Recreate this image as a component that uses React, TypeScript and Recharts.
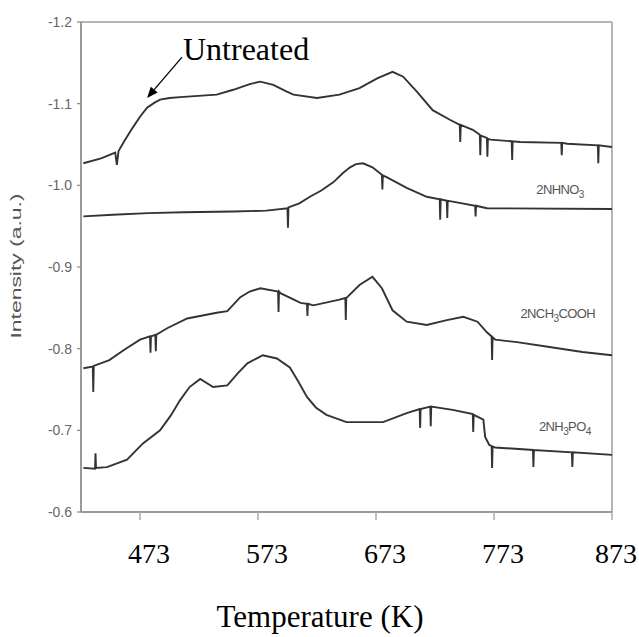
import React from 'react';
import { LineChart, Line, XAxis, YAxis, ReferenceLine, ReferenceDot } from 'recharts';

const xTicks = [473, 573, 673, 773, 873];
const yTicks = [-1.2, -1.1, -1.0, -0.9, -0.8, -0.7, -0.6];

const untreated = [
  { t: 425, v: -1.027 }, { t: 440, v: -1.033 }, { t: 452, v: -1.040 }, { t: 453.4, v: -1.025 },
  { t: 454.8, v: -1.042 }, { t: 460, v: -1.055 }, { t: 467, v: -1.071 }, { t: 473, v: -1.084 },
  { t: 479, v: -1.095 }, { t: 485, v: -1.101 }, { t: 490, v: -1.105 }, { t: 498, v: -1.107 },
  { t: 507, v: -1.108 }, { t: 538, v: -1.111 }, { t: 552, v: -1.117 }, { t: 566, v: -1.124 },
  { t: 575, v: -1.127 }, { t: 586, v: -1.123 }, { t: 597, v: -1.115 }, { t: 603, v: -1.111 },
  { t: 623, v: -1.107 }, { t: 642, v: -1.111 }, { t: 659, v: -1.119 }, { t: 674, v: -1.131 },
  { t: 687, v: -1.139 }, { t: 696, v: -1.133 }, { t: 708, v: -1.114 }, { t: 721, v: -1.092 },
  { t: 736, v: -1.080 }, { t: 744, v: -1.074 }, { t: 744.4, v: -1.053 }, { t: 744.8, v: -1.074 },
  { t: 755, v: -1.068 }, { t: 761, v: -1.062 }, { t: 761.4, v: -1.037 }, { t: 761.8, v: -1.061 },
  { t: 767, v: -1.058 }, { t: 767.4, v: -1.035 }, { t: 767.8, v: -1.057 }, { t: 770, v: -1.056 },
  { t: 788, v: -1.054 }, { t: 788.4, v: -1.031 }, { t: 788.8, v: -1.054 }, { t: 795, v: -1.053 },
  { t: 830, v: -1.052 }, { t: 830.4, v: -1.037 }, { t: 830.8, v: -1.052 }, { t: 835, v: -1.051 },
  { t: 861, v: -1.049 }, { t: 861.4, v: -1.027 }, { t: 861.8, v: -1.049 }, { t: 873, v: -1.047 },
];

const hno3 = [
  { t: 425, v: -0.962 }, { t: 450, v: -0.964 }, { t: 480, v: -0.966 }, { t: 510, v: -0.967 },
  { t: 552, v: -0.968 }, { t: 580, v: -0.969 }, { t: 598, v: -0.972 }, { t: 598.4, v: -0.948 },
  { t: 598.8, v: -0.973 }, { t: 608, v: -0.978 }, { t: 617, v: -0.986 }, { t: 627, v: -0.994 },
  { t: 637, v: -1.004 }, { t: 645, v: -1.015 }, { t: 651, v: -1.022 }, { t: 656, v: -1.026 },
  { t: 662, v: -1.027 }, { t: 670, v: -1.022 }, { t: 678, v: -1.013 }, { t: 678.4, v: -0.995 },
  { t: 678.8, v: -1.012 }, { t: 682, v: -1.010 }, { t: 699, v: -0.997 }, { t: 716, v: -0.986 },
  { t: 727, v: -0.983 }, { t: 727.4, v: -0.958 }, { t: 727.8, v: -0.983 }, { t: 733, v: -0.981 },
  { t: 733.4, v: -0.960 }, { t: 733.8, v: -0.981 }, { t: 738, v: -0.980 }, { t: 757, v: -0.975 },
  { t: 757.4, v: -0.962 }, { t: 757.8, v: -0.975 }, { t: 767, v: -0.972 }, { t: 873, v: -0.971 },
];

const ch3cooh = [
  { t: 425, v: -0.776 }, { t: 433, v: -0.778 }, { t: 433.4, v: -0.747 }, { t: 433.8, v: -0.779 },
  { t: 447, v: -0.786 }, { t: 460, v: -0.799 }, { t: 473, v: -0.811 }, { t: 481.5, v: -0.815 },
  { t: 481.9, v: -0.795 }, { t: 482.3, v: -0.815 }, { t: 486, v: -0.817 }, { t: 486.4, v: -0.797 },
  { t: 486.8, v: -0.817 }, { t: 496, v: -0.825 }, { t: 513, v: -0.837 }, { t: 538, v: -0.844 },
  { t: 547, v: -0.846 }, { t: 558, v: -0.863 }, { t: 566, v: -0.870 }, { t: 575, v: -0.874 },
  { t: 590, v: -0.870 }, { t: 590.4, v: -0.845 }, { t: 590.8, v: -0.870 }, { t: 592, v: -0.868 },
  { t: 609, v: -0.856 }, { t: 614.5, v: -0.855 }, { t: 614.9, v: -0.840 }, { t: 615.3, v: -0.855 },
  { t: 620, v: -0.853 }, { t: 642, v: -0.860 }, { t: 647, v: -0.862 }, { t: 647.4, v: -0.835 },
  { t: 647.8, v: -0.862 }, { t: 659, v: -0.878 }, { t: 670, v: -0.888 }, { t: 678, v: -0.874 },
  { t: 687, v: -0.847 }, { t: 699, v: -0.833 }, { t: 716, v: -0.829 }, { t: 733, v: -0.835 },
  { t: 747, v: -0.839 }, { t: 759, v: -0.833 }, { t: 767, v: -0.820 }, { t: 771, v: -0.815 },
  { t: 771.4, v: -0.786 }, { t: 771.8, v: -0.814 }, { t: 774, v: -0.811 }, { t: 792.5, v: -0.808 },
  { t: 820, v: -0.802 }, { t: 848, v: -0.796 }, { t: 873, v: -0.792 },
];

const h3po4 = [
  { t: 425, v: -0.654 }, { t: 434.9, v: -0.653 }, { t: 435.3, v: -0.672 }, { t: 435.7, v: -0.654 },
  { t: 445, v: -0.655 }, { t: 462, v: -0.664 }, { t: 475.5, v: -0.684 }, { t: 490, v: -0.700 },
  { t: 499, v: -0.718 }, { t: 507, v: -0.737 }, { t: 515, v: -0.753 }, { t: 524, v: -0.763 },
  { t: 535, v: -0.753 }, { t: 547, v: -0.755 }, { t: 556, v: -0.770 }, { t: 564, v: -0.782 },
  { t: 577, v: -0.792 }, { t: 589, v: -0.788 }, { t: 600, v: -0.777 }, { t: 607, v: -0.760 },
  { t: 614.5, v: -0.741 }, { t: 622, v: -0.728 }, { t: 631, v: -0.719 }, { t: 648, v: -0.710 },
  { t: 679, v: -0.710 }, { t: 699, v: -0.721 }, { t: 710, v: -0.726 }, { t: 710.4, v: -0.703 },
  { t: 710.8, v: -0.726 }, { t: 719, v: -0.729 }, { t: 719.4, v: -0.705 }, { t: 719.8, v: -0.729 },
  { t: 738, v: -0.725 }, { t: 755, v: -0.720 }, { t: 755.4, v: -0.698 }, { t: 755.8, v: -0.719 },
  { t: 764, v: -0.713 }, { t: 765.5, v: -0.692 }, { t: 769, v: -0.682 }, { t: 771, v: -0.681 },
  { t: 771.4, v: -0.654 }, { t: 771.8, v: -0.680 }, { t: 774, v: -0.679 }, { t: 806, v: -0.676 },
  { t: 806.4, v: -0.655 }, { t: 806.8, v: -0.676 }, { t: 839, v: -0.673 }, { t: 839.4, v: -0.655 },
  { t: 839.8, v: -0.673 }, { t: 873, v: -0.670 },
];

const arrowFrom = { x: 508.6, y: -1.157 };
const arrowTo = { x: 479, y: -1.107 };
const seriesLabels = [
  { t: 829, v: -0.994, main: '2NHNO', sub: '3', tail: '' },
  { t: 827, v: -0.842, main: '2NCH', sub: '3', tail: 'COOH' },
  { t: 833, v: -0.704, main: '2NH', sub: '3', tail: 'PO', sub2: '4' },
];

const serif = '"Liberation Serif", "Times New Roman", Times, serif';
const sans = '"Liberation Sans", Arial, Helvetica, sans-serif';
const lineColor = '#333';

const XTick = (props: any) => {
  const { x, y, payload } = props;
  return (
    <text x={Math.min(x + 9, 616)} y={y} dy={41} textAnchor="middle" fontFamily={serif} fontSize={28} fill="#000">
      {payload.value}
    </text>
  );
};

const YTick = (props: any) => {
  const { x, y, payload } = props;
  return (
    <text x={x - 1} y={y} dy={5} textAnchor="end" fontFamily={sans} fontSize={14} fill="#666">
      {Number(payload.value).toFixed(1)}
    </text>
  );
};

const ArrowShape = (props: any) => {
  const { x1, y1, x2, y2 } = props;
  if (x1 == null) return null;
  const ang = Math.atan2(y2 - y1, x2 - x1);
  const len = 11;
  const w = 4.5;
  const bx = x2 - len * Math.cos(ang);
  const by = y2 - len * Math.sin(ang);
  const px = -Math.sin(ang) * w;
  const py = Math.cos(ang) * w;
  return (
    <g>
      <line x1={x1} y1={y1} x2={bx} y2={by} stroke="#000" strokeWidth={1.3} />
      <polygon points={`${x2},${y2} ${bx + px},${by + py} ${bx - px},${by - py}`} fill="#000" />
      <text x={x1 + 1} y={y1 + 3} fontFamily={serif} fontSize={32} fill="#000">Untreated</text>
    </g>
  );
};

const makeLabelShape = (item: any) => (props: any) => {
  const { cx, cy } = props;
  return (
    <text x={cx} y={cy} dy={4} textAnchor="middle" fontFamily={sans} fontSize={13} fill="#555" letterSpacing={-0.6}>
      {item.main}
      <tspan dy={4} fontSize={10}>{item.sub}</tspan>
      <tspan dy={-4}>{item.tail}</tspan>
      {item.sub2 ? <tspan dy={4} fontSize={10}>{item.sub2}</tspan> : null}
    </text>
  );
};

export default function App() {
  return (
    <div style={{ position: 'absolute', left: 0, top: 0, width: 639, height: 637, background: '#fff' }}>
      <LineChart width={639} height={637} margin={{ top: 22, right: 27, bottom: 0, left: 0 }}>
        <XAxis
          type="number"
          dataKey="t"
          domain={[423, 873]}
          ticks={xTicks}
          allowDataOverflow
          height={125}
          tick={<XTick />}
          tickSize={8}
          tickMargin={2}
          axisLine={{ stroke: '#9a9a9a', strokeWidth: 2 }}
          tickLine={{ stroke: '#aaa', strokeWidth: 1.5 }}
        />
        <YAxis
          type="number"
          domain={[-1.2, -0.6]}
          ticks={yTicks}
          reversed
          allowDataOverflow
          width={81}
          tick={<YTick />}
          tickSize={4}
          tickMargin={4}
          axisLine={{ stroke: '#9a9a9a', strokeWidth: 2 }}
          tickLine={{ stroke: '#888', strokeWidth: 1.2 }}
        />
        <ReferenceLine y={-1.2} stroke="#b5b5b5" strokeWidth={2} />
        <ReferenceLine x={873} stroke="#b5b5b5" strokeWidth={2} />
        <Line data={untreated} dataKey="v" type="linear" stroke={lineColor} strokeWidth={1.9} dot={false} isAnimationActive={false} />
        <Line data={hno3} dataKey="v" type="linear" stroke={lineColor} strokeWidth={1.9} dot={false} isAnimationActive={false} />
        <Line data={ch3cooh} dataKey="v" type="linear" stroke={lineColor} strokeWidth={1.9} dot={false} isAnimationActive={false} />
        <Line data={h3po4} dataKey="v" type="linear" stroke={lineColor} strokeWidth={1.9} dot={false} isAnimationActive={false} />
        <ReferenceLine segment={[arrowFrom, arrowTo]} shape={ArrowShape} ifOverflow="visible" />
        {seriesLabels.map((s) => (
          <ReferenceDot key={s.main + s.tail} x={s.t} y={s.v} shape={makeLabelShape(s)} ifOverflow="visible" />
        ))}
      </LineChart>
      <svg width={639} height={637} style={{ position: 'absolute', left: 0, top: 0, pointerEvents: 'none' }}>
        <text x={320} y={627} textAnchor="middle" fontFamily={serif} fontSize={31} fill="#000">Temperature (K)</text>
        <text transform="translate(21,266) rotate(-90)" textAnchor="middle" fontFamily={sans} fontSize={15} fill="#555" textLength={145} lengthAdjust="spacingAndGlyphs">
          Intensity (a.u.)
        </text>
      </svg>
    </div>
  );
}
